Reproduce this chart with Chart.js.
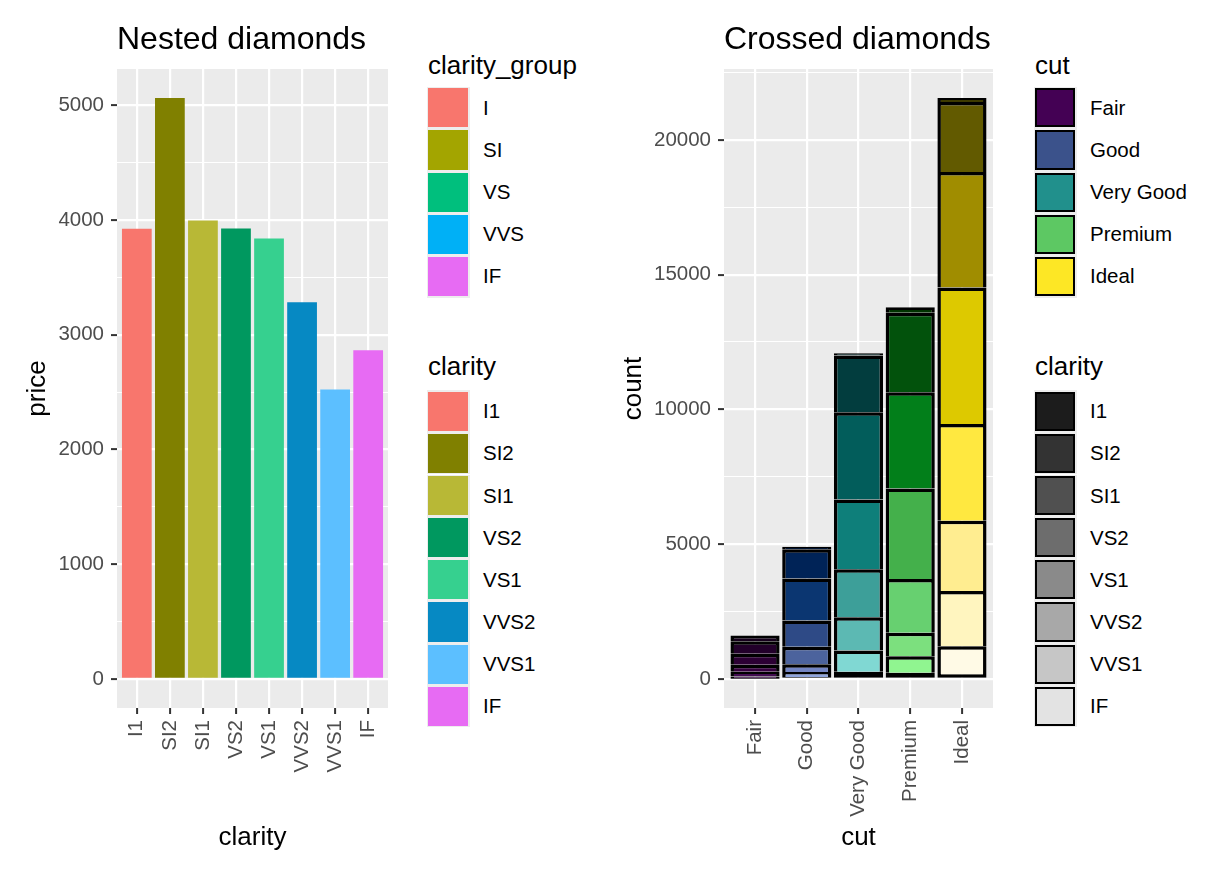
<!DOCTYPE html>
<html>
<head>
<meta charset="utf-8">
<script src="https://cdn.jsdelivr.net/npm/chart.js@4.4.1/dist/chart.umd.min.js"></script>
<style>
  html, body { margin: 0; padding: 0; background: #fff; }
  body { width: 1232px; height: 880px; position: relative; overflow: hidden;
         font-family: "Liberation Sans", Arial, sans-serif; }
  canvas { position: absolute; top: 0; }
  #nested { left: 0; }
  #crossed { left: 600px; }
  .lg-title { position: absolute; font-size: 26px; line-height: 30px; color: #000; white-space: nowrap; }
  .lg-key { position: absolute; background: #ededed; }
  .lg-fill { position: absolute; box-sizing: border-box; }
  .lg-label { position: absolute; font-size: 20.5px; line-height: 24px; color: #000; white-space: nowrap; }
</style>
</head>
<body>
<canvas id="nested" width="400" height="880"></canvas>
<canvas id="crossed" width="420" height="880"></canvas>
<div id="legends"></div>
<script>
// ---- data: left panel (mean price by clarity) ----
const clarityLevels = ['I1', 'SI2', 'SI1', 'VS2', 'VS1', 'VVS2', 'VVS1', 'IF'];
const clarityGroups = ['I', 'SI', 'VS', 'VVS', 'IF'];
const meanPrice = [3924, 5063, 3996, 3925, 3839, 3284, 2523, 2865];
const priceBreaks = [0, 1000, 2000, 3000, 4000, 5000];

// ---- data: right panel (count by cut, stacked by clarity) ----
const cutLevels = ['Fair', 'Good', 'Very Good', 'Premium', 'Ideal'];
const countI1   = [210,   96,   84,  205,  146];
const countSI2  = [466, 1081, 2100, 2949, 2598];
const countSI1  = [408, 1560, 3240, 3575, 4282];
const countVS2  = [261,  978, 2591, 3357, 5071];
const countVS1  = [170,  648, 1775, 1989, 3589];
const countVVS2 = [ 69,  286, 1235,  870, 2606];
const countVVS1 = [ 17,  186,  789,  616, 2047];
const countIF   = [  9,   71,  268,  230, 1212];
const countByClarity = [countI1, countSI2, countSI1, countVS2, countVS1, countVVS2, countVVS1, countIF];
const countBreaks = [0, 5000, 10000, 15000, 20000];

// ---- colours ----
const groupColors = ['#F8766D', '#A3A500', '#00BF7D', '#00B0F6', '#E76BF3'];
const clarityColors = ['#F8766D', '#808000', '#B8B836', '#00985F', '#36D08F', '#0689C3', '#5CBFFF', '#E76BF3'];
const cutColors = ['#440154', '#3B528B', '#21908C', '#5DC863', '#FDE725'];
const clarityGreys = ['#1C1C1C', '#333333', '#505050', '#6D6D6D', '#8A8A8A', '#A8A8A8', '#C6C6C6', '#E3E3E3'];
// shade of each cut colour per clarity (I1 .. IF)
const cutShades = [
  ['#16001C', '#22002A', '#2C0034', '#36003F', '#420C50', '#522060', '#6A3C74', '#805A88'],
  ['#001433', '#002357', '#0B3671', '#2E4A86', '#4C639D', '#7385C3', '#8EA4DC', '#B0C4F5'],
  ['#002828', '#023D3E', '#025D5B', '#0E7F7A', '#3D9F99', '#5CB9B3', '#80D8D3', '#A0F5F0'],
  ['#003300', '#02520C', '#027F1A', '#44B04B', '#67D070', '#7CE07E', '#90F590', '#B4FAA8'],
  ['#3D3A00', '#625A00', '#A08D00', '#DDC900', '#FFE840', '#FFED90', '#FFF5BF', '#FFFAE6']
];

const FAMILY = '"Liberation Sans", Arial, sans-serif';
const TICK_FONT = { family: FAMILY, size: 20.5 };
const TITLE_FONT = { family: FAMILY, size: 26 };

// grey panel behind the grid
const panelBg = {
  id: 'panelBg',
  beforeDraw(chart) {
    const { ctx, chartArea: a } = chart;
    ctx.save();
    ctx.fillStyle = '#EBEBEB';
    ctx.fillRect(a.left, a.top, a.right - a.left, a.bottom - a.top);
    ctx.restore();
  }
};

// continuous y axis with ggplot-like major + minor grid
function valueAxis(breaks, top, stacked, width, title, titlePad) {
  const step = breaks[1] - breaks[0];
  const lo = -0.05 * top, hi = top * 1.05;
  const all = [];
  for (let v = breaks[0] - step / 2; v <= hi; v += step / 2) {
    if (v >= lo) all.push(v);
  }
  const isMajor = v => breaks.includes(v);
  return {
    type: 'linear', min: lo, max: hi, stacked: stacked,
    afterBuildTicks: s => { s.ticks = all.map(v => ({ value: v })); },
    afterFit: s => { s.width = width; },
    grid: {
      color: '#FFFFFF',
      lineWidth: c => (c.tick && isMajor(c.tick.value)) ? 2.2 : 1.1,
      tickColor: c => (c.tick && isMajor(c.tick.value)) ? '#333333' : 'rgba(0,0,0,0)',
      tickLength: 6, tickWidth: 2
    },
    border: { display: false },
    ticks: {
      color: '#4D4D4D', font: TICK_FONT, padding: 7, autoSkip: false,
      callback: v => isMajor(v) ? String(v) : ''
    },
    title: { display: true, text: title, color: '#000', font: TITLE_FONT, padding: { top: titlePad, bottom: 0 } }
  };
}

// discrete x axis drawn on a linear scale (ggplot expansion of 0.6)
function categoryAxis(cats, height, title) {
  return {
    type: 'linear', min: 0.4, max: cats.length + 0.6, offset: false, stacked: true,
    afterBuildTicks: s => { s.ticks = cats.map((c, i) => ({ value: i + 1 })); },
    afterFit: s => { s.height = height; },
    grid: { offset: false, color: '#FFFFFF', lineWidth: 2.2, tickColor: '#333333', tickLength: 6, tickWidth: 2 },
    border: { display: false },
    ticks: {
      color: '#4D4D4D', font: TICK_FONT, padding: 6, autoSkip: false,
      minRotation: 90, maxRotation: 90,
      callback: v => cats[Math.round(v) - 1]
    },
    title: { display: true, text: title, color: '#000', font: TITLE_FONT, padding: { top: 0, bottom: 26.4 } }
  };
}

function plotTitle(text) {
  return {
    display: true, text: text, align: 'start', fullSize: false, color: '#000',
    font: { family: FAMILY, size: 32, weight: 'normal' },
    padding: { top: 21.2, bottom: 9.4 }
  };
}

// ---- left: Nested diamonds ----
new Chart(document.getElementById('nested'), {
  type: 'bar',
  data: {
    datasets: [{
      label: 'price',
      data: meanPrice.map((v, i) => ({ x: i + 1, y: v })),
      backgroundColor: clarityColors,
      borderWidth: 0,
      categoryPercentage: 1, barPercentage: 0.9
    }]
  },
  options: {
    responsive: false, animation: false,
    layout: { padding: { left: 0, right: 12, top: 0, bottom: 0 } },
    plugins: { legend: { display: false }, tooltip: { enabled: false }, title: plotTitle('Nested diamonds') },
    scales: {
      x: categoryAxis(clarityLevels, 172, 'clarity'),
      y: valueAxis(priceBreaks, Math.max(...meanPrice), false, 117, 'price', 22.4)
    }
  },
  plugins: [panelBg]
});

// ---- right: Crossed diamonds ----
const totals = cutLevels.map((c, i) => countByClarity.reduce((s, arr) => s + arr[i], 0));
const crossedSets = [];
for (let k = clarityLevels.length - 1; k >= 0; k--) {
  crossedSets.push({
    label: clarityLevels[k],
    data: countByClarity[k].map((v, i) => ({ x: i + 1, y: v })),
    backgroundColor: cutLevels.map((c, i) => cutShades[i][k]),
    borderColor: '#000000',
    borderWidth: 3.5,
    borderSkipped: k === clarityLevels.length - 1 ? false : 'start',
    // outline sits outside the 0.9 bar in ggplot, so widen a little
    categoryPercentage: 1, barPercentage: 0.95
  });
}
new Chart(document.getElementById('crossed'), {
  type: 'bar',
  data: { datasets: crossedSets },
  options: {
    responsive: false, animation: false,
    layout: { padding: { left: 0, right: 27, top: 0, bottom: 0 } },
    plugins: { legend: { display: false }, tooltip: { enabled: false }, title: plotTitle('Crossed diamonds') },
    scales: {
      x: categoryAxis(cutLevels, 172, 'cut'),
      y: valueAxis(countBreaks, Math.max(...totals), true, 124, 'count', 18.4)
    }
  },
  plugins: [panelBg]
});

// ---- HTML legends ----
const PITCH = 42.15;
function buildLegend(x, titleY, keysTop, title, labels, fills, outlined) {
  const root = document.getElementById('legends');
  const t = document.createElement('div');
  t.className = 'lg-title';
  t.textContent = title;
  t.style.left = x + 'px';
  t.style.top = (titleY - 15) + 'px';
  root.appendChild(t);
  labels.forEach((lab, i) => {
    const top = keysTop + i * PITCH;
    const key = document.createElement('div');
    key.className = 'lg-key';
    key.style.left = (x - 1.5) + 'px';
    key.style.top = top + 'px';
    key.style.width = '43px';
    key.style.height = PITCH + 'px';
    const fill = document.createElement('div');
    fill.className = 'lg-fill';
    fill.style.left = '1.5px';
    fill.style.top = '1.5px';
    fill.style.width = '40px';
    fill.style.height = (PITCH - 3) + 'px';
    fill.style.background = fills[i];
    if (outlined) fill.style.border = '2px solid #000';
    key.appendChild(fill);
    root.appendChild(key);
    const l = document.createElement('div');
    l.className = 'lg-label';
    l.textContent = lab;
    l.style.left = (x + 55) + 'px';
    l.style.top = (top + PITCH / 2 - 12) + 'px';
    root.appendChild(l);
  });
}
buildLegend(428, 65, 86.8, 'clarity_group', clarityGroups, groupColors, false);
buildLegend(428, 366, 390.2, 'clarity', clarityLevels, clarityColors, false);
buildLegend(1035, 65, 86.8, 'cut', cutLevels, cutColors, true);
buildLegend(1035, 366, 390.2, 'clarity', clarityLevels, clarityGreys, true);
</script>
</body>
</html>
